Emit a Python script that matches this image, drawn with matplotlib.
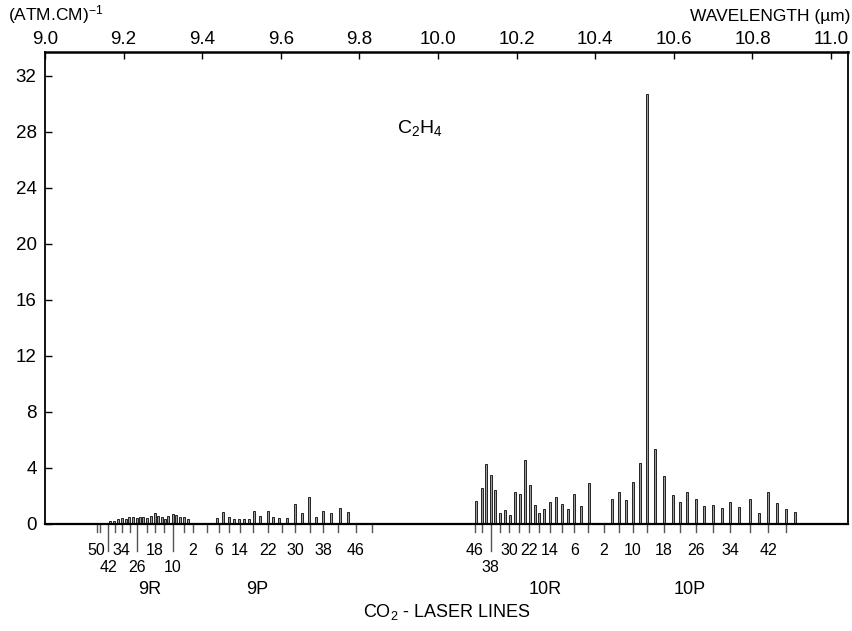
import numpy as np
import matplotlib.pyplot as plt

plt.rcParams['font.family'] = ['Liberation Sans', 'DejaVu Sans']
plt.rcParams['mathtext.default'] = 'regular'

# absorption coefficient (atm.cm)^-1 at the CO2 laser lines, wavelength in um
r9_wl = [9.1654, 9.1756, 9.1865, 9.1952, 9.2061, 9.2145, 9.2247, 9.2333, 9.2417, 9.2501, 9.2603,
         9.2690, 9.2799, 9.2883, 9.2969, 9.3053, 9.3137, 9.3249, 9.3333, 9.3435, 9.3537, 9.3646]
r9_abs = [0.19, 0.24, 0.33, 0.43, 0.36, 0.48, 0.52, 0.43, 0.52, 0.48, 0.43,
          0.6, 0.79, 0.6, 0.48, 0.36, 0.6, 0.71, 0.64, 0.52, 0.48, 0.36]

p9_wl = [9.4384, 9.4537, 9.4682, 9.4817, 9.4944, 9.5071, 9.5198, 9.5326, 9.5471, 9.5667, 9.5809,
         9.5954, 9.6165, 9.6361, 9.6539, 9.6725, 9.6888, 9.7081, 9.7277, 9.7506, 9.7718]
p9_abs = [0.4, 0.83, 0.5, 0.38, 0.35, 0.38, 0.35, 0.95, 0.55, 0.95, 0.5,
          0.4, 0.4, 1.4, 0.82, 1.9, 0.5, 0.95, 0.78, 1.15, 0.85]

r10_wl = [10.0967, 10.1120, 10.1229, 10.1341, 10.1458, 10.1578, 10.1712, 10.1832, 10.1959, 10.2087, 10.2206,
          10.2333, 10.2461, 10.2578, 10.2697, 10.2858, 10.3003, 10.3163, 10.3316, 10.3468, 10.3646, 10.3835]
r10_abs = [1.65, 2.55, 4.3, 3.5, 2.45, 0.82, 1.0, 0.63, 2.3, 2.15, 4.55,
           2.8, 1.35, 0.75, 1.05, 1.55, 1.95, 1.45, 1.1, 2.15, 1.3, 2.9]

p10_wl = [10.4420, 10.4598, 10.4784, 10.4969, 10.5140, 10.5326, 10.5529, 10.5743, 10.5972, 10.6150, 10.6344, 10.6565,
          10.6776, 10.7005, 10.7219, 10.7430, 10.7667, 10.7947, 10.8160, 10.8405, 10.8618, 10.8855, 10.9084]
p10_abs = [1.75, 2.3, 1.7, 3.0, 4.35, 30.7, 5.35, 3.4, 2.05, 1.55, 2.3, 1.8,
           1.25, 1.35, 1.15, 1.55, 1.2, 1.8, 0.75, 2.3, 1.5, 1.05, 0.85]

# laser line ticks under the axis: wavelength, label, label row (0 = none)
tick_wl = [9.1316, 9.1412, 9.1611, 9.1781, 9.1952, 9.2163, 9.2333, 9.2588, 9.2799, 9.3028, 9.3249, 9.3537, 9.3758,
           9.4115, 9.4427, 9.4682, 9.4962, 9.5293, 9.5674, 9.6023, 9.6361, 9.6743, 9.7081, 9.7448, 9.7913, 9.8328,
           10.0941, 10.1112, 10.1341, 10.1578, 10.1814, 10.2069, 10.2323, 10.2578, 10.2850, 10.3148, 10.3468, 10.3824,
           10.4224, 10.4598, 10.4962, 10.5326, 10.5751, 10.6158, 10.6565, 10.7005, 10.7430, 10.7947, 10.8405, 10.8855]
tick_txt = ['50', '', '42', '', '34', '', '26', '', '18', '', '10', '', '2',
            '', '6', '', '14', '', '22', '', '30', '', '38', '', '46', '',
            '46', '', '38', '', '30', '', '22', '', '14', '', '6', '',
            '2', '', '10', '', '18', '', '26', '', '34', '', '42', '']
tick_row = [1, 0, 2, 0, 1, 0, 2, 0, 1, 0, 2, 0, 1,
            0, 1, 0, 1, 0, 1, 0, 1, 0, 1, 0, 1, 0,
            1, 0, 2, 0, 1, 0, 1, 0, 1, 0, 1, 0,
            1, 0, 1, 0, 1, 0, 1, 0, 1, 0, 1, 0]

branch_names = ['9R', '9P', '10R', '10P']
branch_wl = [9.267, 9.539, 10.272, 10.641]

fig = plt.figure(figsize=(8.53, 6.31), dpi=100)
ax = fig.add_axes([45/853, 1-524/631, (848-45)/853, (524-52)/631])

for wl, a in [(r9_wl, r9_abs), (p9_wl, p9_abs), (r10_wl, r10_abs), (p10_wl, p10_abs)]:
    ax.bar(wl, a, width=0.0055, color='#9c9c9c', edgecolor='#222222', linewidth=0.7)

ax.set_xlim(9.0, 11.043)
ax.set_ylim(0, 33.7)
ax.set_yticks(np.arange(0, 33, 4))
ax.tick_params(axis='y', direction='in', length=5, width=1, labelsize=13.5, pad=6)
ax.xaxis.tick_top()
xt = np.arange(9.0, 11.01, 0.2)
ax.set_xticks(xt)
ax.set_xticklabels(['%.1f' % v for v in xt])
ax.tick_params(axis='x', direction='in', length=5, width=1, labelsize=13.5, pad=3)
for s in ax.spines.values():
    s.set_linewidth(1.3)
ax.spines['top'].set_linewidth(1.8)
ax.spines['bottom'].set_linewidth(1.6)

for wl, txt, row in zip(tick_wl, tick_txt, tick_row):
    ln = 1.95 if row == 2 else 0.6
    ax.plot([wl, wl], [0, -ln], color='#555555', lw=1, clip_on=False)
    if txt:
        off = 19 if row == 1 else 31
        ax.annotate(txt, (wl, 0), xytext=(0, -off), textcoords='offset points',
                    ha='center', va='center', fontsize=11.5)

for name, wl in zip(branch_names, branch_wl):
    ax.annotate(name, (wl, 0), xytext=(0, -47.5), textcoords='offset points',
                ha='center', va='center', fontsize=13)

ax.text(9.954, 28.3, 'C$_2$H$_4$', ha='center', va='center', fontsize=14)

fig.text(447/853, 1-612/631, 'CO$_2$ - LASER LINES', ha='center', va='center', fontsize=13)
fig.text(8/853, 1-15/631, '(ATM.CM)$^{-1}$', ha='left', va='center', fontsize=12.5)
fig.text(850/853, 1-16/631, 'WAVELENGTH (\u00b5m)', ha='right', va='center', fontsize=12.5)

fig.savefig('out.png', dpi=100)
